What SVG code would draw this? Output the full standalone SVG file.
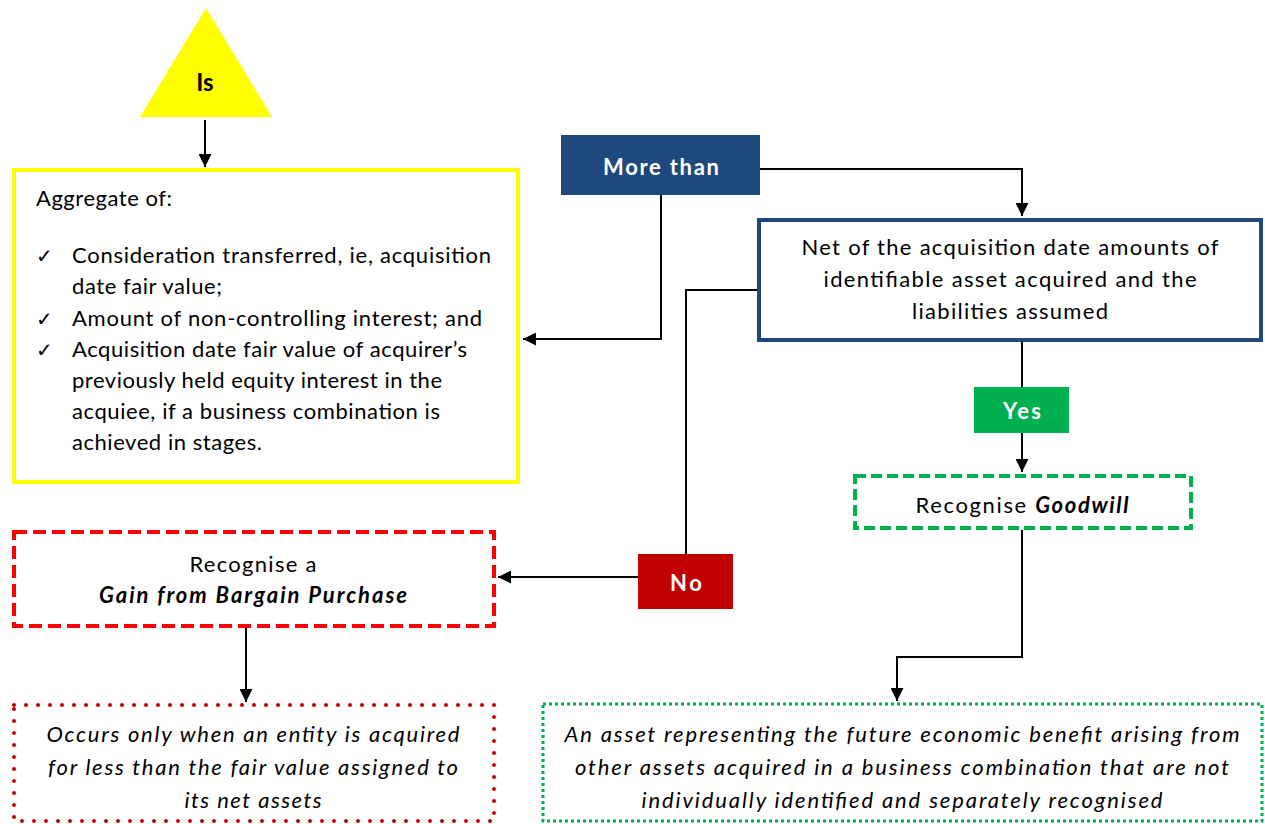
<svg xmlns="http://www.w3.org/2000/svg" width="1265" height="824" viewBox="0 0 1265 824">
<style>
text{font-family:Lato,"Open Sans","DejaVu Sans",sans-serif;font-size:22px;fill:#000}
.c{text-anchor:middle}
.w{fill:#fff;font-weight:bold}
.bi{font-weight:bold;font-style:italic}
.i{font-style:italic}
.ln{fill:none;stroke:#000;stroke-width:2}
</style>
<defs>
<marker id="ah" viewBox="0 0 10 10" refX="10" refY="5" markerWidth="7" markerHeight="6.5" orient="auto" markerUnits="strokeWidth">
<path d="M0,0 L10,5 L0,10 Z" fill="#000"/>
</marker>
</defs>
<g id="connectors">
<path class="ln" d="M205,120 V167" marker-end="url(#ah)"/>
<path class="ln" d="M760,169 H1022 V216" marker-end="url(#ah)"/>
<path class="ln" d="M661,195 V339 H523" marker-end="url(#ah)"/>
<path class="ln" d="M757,290 H686 V554"/>
<path class="ln" d="M638,577 H498" marker-end="url(#ah)"/>
<path class="ln" d="M246,628 V702" marker-end="url(#ah)"/>
<path class="ln" d="M1022,342 V387"/>
<path class="ln" d="M1022,433 V472" marker-end="url(#ah)"/>
<path class="ln" d="M1022,530 V657 H897 V701" marker-end="url(#ah)"/>
</g>
<g id="is">
<polygon points="206,8 272,117 140,117" fill="#FFFF00"/>
<text class="c" x="205" y="91" style="font-weight:bold;font-size:24px">Is</text>
</g>
<g id="aggregate">
<rect x="14" y="170" width="504" height="312" fill="#fff" stroke="#FFFF00" stroke-width="4"/>
<text x="36" y="206" textLength="136">Aggregate of:</text>
<text x="36" y="263" style="font-size:20px">✓</text>
<text x="72" y="263" textLength="419">Consideration transferred, ie, acquisition</text>
<text x="72" y="294" textLength="150">date fair value;</text>
<text x="36" y="326" style="font-size:20px">✓</text>
<text x="72" y="326" textLength="410">Amount of non-controlling interest; and</text>
<text x="36" y="357" style="font-size:20px">✓</text>
<text x="72" y="357" textLength="395">Acquisition date fair value of acquirer’s</text>
<text x="72" y="388" textLength="370">previously held equity interest in the</text>
<text x="72" y="419" textLength="368">acquiee, if a business combination is</text>
<text x="72" y="450" textLength="190">achieved in stages.</text>
</g>
<g id="more-than">
<rect x="561" y="135" width="199" height="60" fill="#1F497D"/>
<text class="c w" x="661" y="175" textLength="116">More than</text>
</g>
<g id="net">
<rect x="759" y="220" width="502" height="120" fill="#fff" stroke="#1F497D" stroke-width="4"/>
<text class="c" x="1010" y="255" textLength="417">Net of the acquisition date amounts of</text>
<text class="c" x="1010" y="287" textLength="373">identifiable asset acquired and the</text>
<text class="c" x="1010" y="319" textLength="196">liabilities assumed</text>
</g>
<g id="yes">
<rect x="974" y="387" width="95" height="46" fill="#00B050"/>
<text class="c w" x="1022" y="419" textLength="38">Yes</text>
</g>
<g id="no">
<rect x="638" y="554" width="95" height="55" fill="#C00000"/>
<text class="c w" x="686" y="591" textLength="32">No</text>
</g>
<g id="goodwill">
<rect x="855" y="476" width="336" height="52" fill="#fff" stroke="#00B050" stroke-width="4" stroke-dasharray="11 5"/>
<text class="c" x="1022" y="513" textLength="213">Recognise <tspan class="bi">Goodwill</tspan></text>
</g>
<g id="bargain">
<rect x="14" y="532" width="480" height="94" fill="#fff" stroke="#FF0000" stroke-width="4" stroke-dasharray="13 6"/>
<text class="c" x="253" y="572" textLength="127">Recognise a</text>
<text class="c bi" x="253" y="603" textLength="308">Gain from Bargain Purchase</text>
</g>
<g id="bargain-note">
<rect x="14" y="705" width="480" height="116" fill="#fff" stroke="#C00000" stroke-width="4" stroke-linecap="round" stroke-dasharray="0 12"/>
<text class="c i" x="253" y="742" textLength="413">Occurs only when an entity is acquired</text>
<text class="c i" x="253" y="775" textLength="410">for less than the fair value assigned to</text>
<text class="c i" x="253" y="808" textLength="137">its net assets</text>
</g>
<g id="goodwill-note">
<rect x="543" y="704" width="719" height="117" fill="#fff" stroke="#00B050" stroke-width="3" stroke-dasharray="3 3"/>
<text class="c i" x="902" y="742" textLength="675">An asset representing the future economic benefit arising from</text>
<text class="c i" x="902" y="775" textLength="654">other assets acquired in a business combination that are not</text>
<text class="c i" x="902" y="808" textLength="521">individually identified and separately recognised</text>
</g>
</svg>
